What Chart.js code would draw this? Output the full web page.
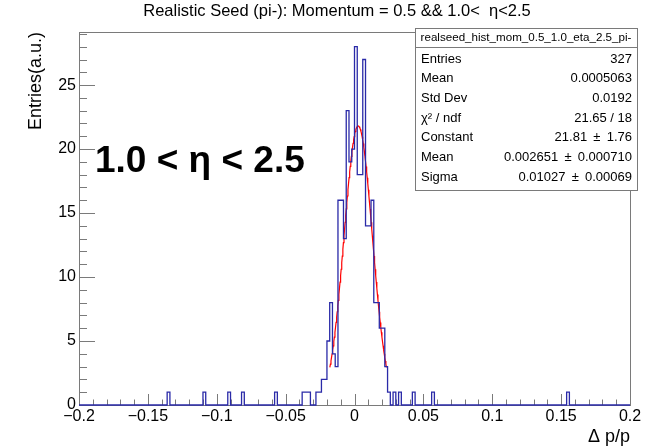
<!DOCTYPE html>
<html>
<head>
<meta charset="utf-8">
<script src="https://cdn.jsdelivr.net/npm/chart.js@4.4.0/dist/chart.umd.min.js"></script>
<style>
  html, body { margin: 0; padding: 0; background: #ffffff; }
  #wrap { width: 653px; height: 448px; position: relative; }
</style>
</head>
<body>
<div id="wrap"><canvas id="c" width="653" height="448"></canvas></div>
<script>
// Histogram definition
const histTitle = "Realistic Seed (pi-): Momentum = 0.5 && 1.0<  η<2.5";
const histName = "realseed_hist_mom_0.5_1.0_eta_2.5_pi-";
const nBins = 200;
const xLow = -0.2;
const xHigh = 0.2;

// Filled bins: lower bin edge and entries
const binLowEdges = [-0.136, -0.110, -0.092, -0.082, -0.058,
  -0.038, -0.036, -0.034, -0.028, -0.026, -0.024, -0.022, -0.020, -0.018,
  -0.016, -0.014, -0.012, -0.010, -0.008, -0.006, -0.004, -0.002,
  0.000, 0.002, 0.004, 0.006, 0.008, 0.010, 0.012, 0.014, 0.016,
  0.018, 0.020, 0.022, 0.024, 0.028, 0.032, 0.042, 0.056, 0.154];
const binCounts = [1, 1, 1, 1, 1,
  1, 1, 1, 1, 1, 2, 2, 5, 8,
  4, 3, 16, 16, 13, 23, 19, 20,
  28, 18, 18, 27, 14, 14, 16, 8, 8,
  6, 6, 3, 1, 1, 1, 1, 1, 1];

// Gaussian fit result
const fitConstant = 21.81;
const fitMean = 0.002651;
const fitSigma = 0.01027;
const fitRange = [-0.0179, 0.0232];

// Axes
const xTickValues = [-0.2, -0.15, -0.1, -0.05, 0, 0.05, 0.1, 0.15, 0.2];
const xTickLabels = ["\u22120.2", "\u22120.15", "\u22120.1", "\u22120.05", "0", "0.05", "0.1", "0.15", "0.2"];
const yTickValues = [0, 5, 10, 15, 20, 25];
const yTickLabels = ["0", "5", "10", "15", "20", "25"];
const yMax = 29.15;
const xTitle = "\u0394 p/p";
const yTitle = "Entries(a.u.)";
const etaLabel = "1.0 < \u03b7 < 2.5";

// Statistics box (the ± sign gets a little extra room, as TLatex does)
const PM = " \u2009\u00b1\u2009 ";
const statLabels = ["Entries", "Mean", "Std Dev", "\u03c7\u00b2 / ndf", "Constant", "Mean", "Sigma"];
const statValues = ["327", "0.0005063", "0.0192", "21.65 / 18", "21.81" + PM + "1.76",
  "0.002651" + PM + "0.000710", "0.01027" + PM + "0.00069"];

const FONT = '"Liberation Sans", Arial, Helvetica, sans-serif';

// Build full histogram as a step outline
const binWidth = (xHigh - xLow) / nBins;
const counts = new Array(nBins).fill(0);
binLowEdges.forEach((edge, k) => {
  const i = Math.round((edge - xLow) / binWidth);
  counts[i] = binCounts[k];
});
// each point sits at a bin's upper edge and carries that bin's content
const histPoints = [{ x: xLow, y: 0 }];
counts.forEach((c, i) => histPoints.push({ x: xLow + (i + 1) * binWidth, y: c }));

// Fit function sampled over its range
const gaus = x => fitConstant * Math.exp(-0.5 * Math.pow((x - fitMean) / fitSigma, 2));
const fitPoints = [];
for (let k = 0; k <= 100; k++) {
  const x = fitRange[0] + (fitRange[1] - fitRange[0]) * k / 100;
  fitPoints.push({ x: x, y: gaus(x) });
}

const axisColor = '#7a7a7a';

const rootStyle = {
  id: 'rootStyle',
  beforeDraw(chart) {
    const ctx = chart.ctx;
    ctx.save();
    ctx.fillStyle = '#ffffff';
    ctx.fillRect(0, 0, chart.width, chart.height);
    ctx.restore();
  },
  beforeDatasetsDraw(chart) {
    const { ctx, chartArea: a, scales } = chart;
    const xs = scales.x, ys = scales.y;
    ctx.save();
    ctx.strokeStyle = axisColor;
    ctx.lineWidth = 1;
    // frame
    ctx.strokeRect(Math.round(a.left) + 0.5, Math.round(a.top) + 0.5,
      Math.round(a.right - a.left), Math.round(a.bottom - a.top));
    ctx.beginPath();
    // x ticks (inside, pointing up)
    for (let k = -20; k <= 20; k++) {
      const px = Math.round(xs.getPixelForValue(k / 100)) + 0.5;
      const len = (k % 5 === 0) ? 11 : 5.5;
      ctx.moveTo(px, a.bottom);
      ctx.lineTo(px, a.bottom - len);
    }
    // y ticks (inside, pointing right)
    for (let v = 0; v <= yMax; v += 1) {
      const py = Math.round(ys.getPixelForValue(v)) + 0.5;
      const len = (v % 5 === 0) ? 16 : 8;
      ctx.moveTo(a.left, py);
      ctx.lineTo(a.left + len, py);
    }
    ctx.stroke();
    ctx.restore();
  },
  afterDraw(chart) {
    const { ctx, chartArea: a } = chart;
    ctx.save();
    ctx.fillStyle = '#000000';

    // title
    ctx.font = '16.5px ' + FONT;
    ctx.textAlign = 'center';
    ctx.textBaseline = 'middle';
    ctx.fillText(histTitle, 337, 11);

    // y axis title
    ctx.save();
    ctx.translate(36, a.top);
    ctx.rotate(-Math.PI / 2);
    ctx.font = '18px ' + FONT;
    ctx.textAlign = 'right';
    ctx.textBaseline = 'middle';
    ctx.fillText(yTitle, 0, 0);
    ctx.restore();

    // x axis title
    ctx.font = '18px ' + FONT;
    ctx.textAlign = 'right';
    ctx.textBaseline = 'middle';
    ctx.fillText(xTitle, a.right, 437);

    // eta range label
    ctx.font = 'bold 37px ' + FONT;
    ctx.textAlign = 'left';
    ctx.textBaseline = 'alphabetic';
    ctx.fillText(etaLabel, 95, 172);

    // statistics box
    const bx = 415, by = 28, bw = 222, bh = 162;
    ctx.fillStyle = '#ffffff';
    ctx.fillRect(bx, by, bw, bh);
    ctx.strokeStyle = axisColor;
    ctx.lineWidth = 1;
    ctx.strokeRect(bx + 0.5, by + 0.5, bw, bh);
    ctx.beginPath();
    ctx.moveTo(bx, 47.5);
    ctx.lineTo(bx + bw, 47.5);
    ctx.stroke();

    ctx.fillStyle = '#000000';
    ctx.font = '11.6px ' + FONT;
    ctx.textAlign = 'center';
    ctx.textBaseline = 'middle';
    ctx.fillText(histName, bx + bw / 2, 38);

    ctx.font = '13px ' + FONT;
    statLabels.forEach((lab, i) => {
      const y = 59 + i * 19.7;
      ctx.textAlign = 'left';
      ctx.fillText(lab, bx + 6, y);
      ctx.textAlign = 'right';
      ctx.fillText(statValues[i], bx + bw - 5, y);
    });
    ctx.restore();
  }
};

new Chart(document.getElementById('c').getContext('2d'), {
  type: 'line',
  data: {
    datasets: [
      {
        data: histPoints,
        stepped: 'after',
        borderColor: '#2a2aa8',
        borderWidth: 1.3,
        pointRadius: 0,
        fill: false,
        clip: 4
      },
      {
        data: fitPoints,
        borderColor: '#ff0000',
        borderWidth: 1.2,
        pointRadius: 0,
        tension: 0,
        fill: false,
        clip: 4
      }
    ]
  },
  options: {
    responsive: false,
    animation: false,
    devicePixelRatio: 1,
    layout: { padding: { top: 32, right: 23, left: 0, bottom: 0 } },
    plugins: {
      legend: { display: false },
      tooltip: { enabled: false },
      title: { display: false }
    },
    scales: {
      x: {
        type: 'linear',
        min: xLow,
        max: xHigh,
        grid: { display: false, drawTicks: false, tickLength: 0 },
        border: { display: false },
        afterBuildTicks: s => { s.ticks = xTickValues.map(v => ({ value: v })); },
        afterFit: s => { s.height = 43; },
        ticks: {
          autoSkip: false,
          maxRotation: 0,
          padding: 2,
          color: '#000000',
          font: { family: FONT, size: 16 },
          callback: v => xTickLabels[xTickValues.findIndex(t => Math.abs(t - v) < 1e-9)]
        }
      },
      y: {
        type: 'linear',
        min: 0,
        max: yMax,
        grid: { display: false, drawTicks: false, tickLength: 0 },
        border: { display: false },
        afterBuildTicks: s => { s.ticks = yTickValues.map(v => ({ value: v })); },
        afterFit: s => { s.width = 79; },
        ticks: {
          padding: 3,
          color: '#000000',
          font: { family: FONT, size: 16 },
          callback: v => yTickLabels[yTickValues.indexOf(v)]
        }
      }
    }
  },
  plugins: [rootStyle]
});
</script>
</body>
</html>
